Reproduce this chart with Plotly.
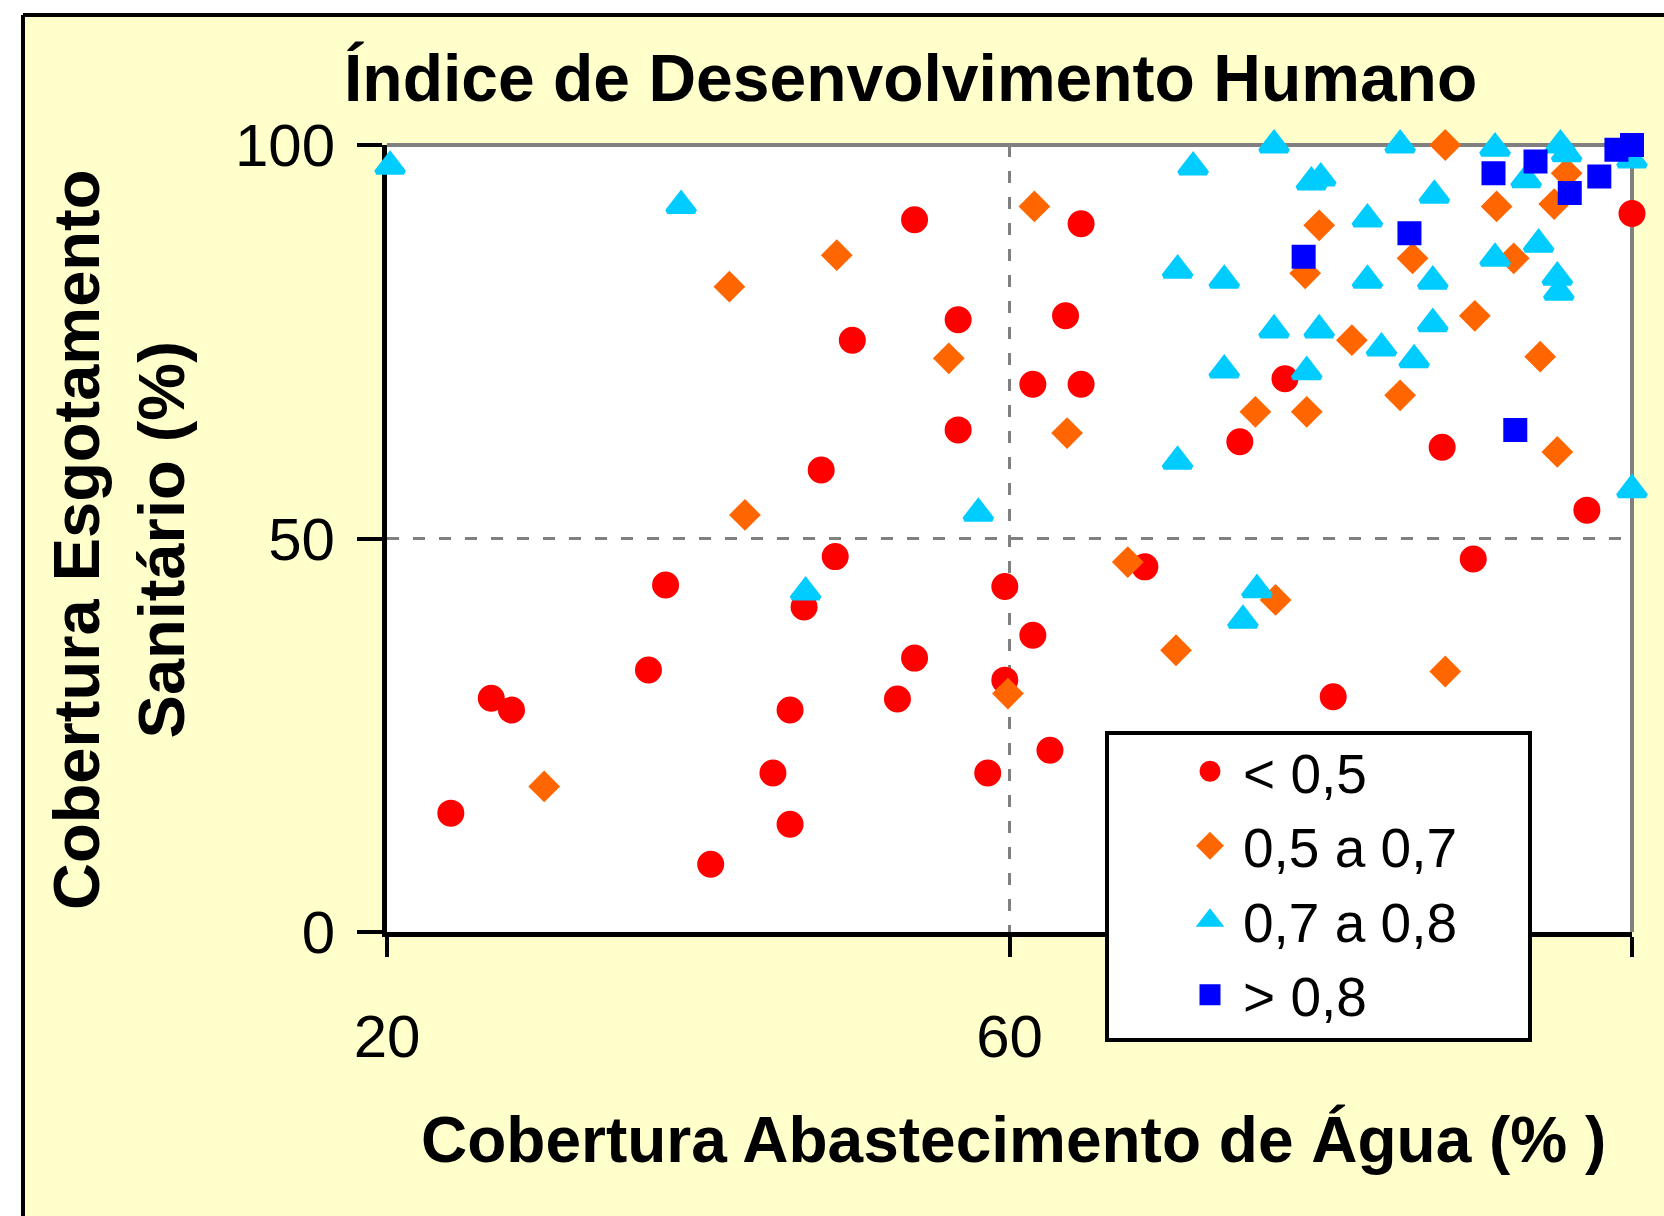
import plotly.graph_objects as go

# ---------------- data ----------------
series_names = ["< 0,5", "0,5 a 0,7", "0,7 a 0,8", "> 0,8"]

low_x = [24.1, 26.7, 28.0, 36.8, 37.9, 40.8, 44.8, 45.9, 45.9, 46.8, 47.9, 48.8,
         49.9, 52.8, 53.9, 53.9, 56.7, 56.7, 58.6, 59.7, 59.7, 61.5, 61.5, 62.6,
         63.6, 64.6, 64.6, 68.7, 74.8, 77.7, 80.8, 87.8, 89.8, 97.1, 100.0]
low_y = [15.1, 29.7, 28.2, 33.3, 44.1, 8.6, 20.2, 28.2, 13.7, 41.3, 58.7, 47.7,
         75.2, 29.6, 34.8, 90.5, 77.8, 63.8, 20.2, 43.9, 32.0, 37.7, 69.6, 23.1,
         78.3, 90.0, 69.6, 46.4, 62.3, 70.3, 29.9, 61.6, 47.4, 53.6, 91.3]

mid_x = [30.1, 42.0, 43.0, 48.9, 56.1, 59.9, 61.6, 63.7, 67.6, 70.7, 75.8, 77.1,
         79.1, 79.0, 79.9, 82.0, 85.1, 85.9, 88.0, 88.0, 89.9, 91.3, 92.4, 94.1,
         95.0, 95.2, 95.8]
mid_y = [18.5, 82.0, 53.0, 86.0, 72.9, 30.3, 92.2, 63.4, 47.0, 35.8, 66.1, 42.2,
         66.1, 83.7, 89.8, 75.2, 68.2, 85.6, 33.1, 100.0, 78.3, 92.2, 85.6, 73.1,
         92.5, 61.0, 96.4]

high_x = [20.2, 38.9, 58.0, 46.9, 70.8, 71.8, 73.8, 73.8, 75.0, 75.9, 77.0, 77.0,
          79.4, 80.0, 79.1, 79.9, 70.8, 83.0, 83.0, 83.9, 85.1, 86.0, 87.3, 87.2,
          87.2, 91.2, 91.2, 93.2, 94.0, 95.2, 95.3, 95.4, 95.8, 100.0, 100.0]
high_y = [97.3, 92.3, 53.2, 43.2, 84.1, 97.2, 82.8, 71.4, 39.6, 43.5, 100.0, 76.5,
          95.3, 95.8, 71.2, 76.5, 59.8, 90.6, 82.8, 74.2, 100.0, 72.7, 93.6, 82.7,
          77.3, 99.6, 85.6, 95.6, 87.4, 83.2, 81.3, 100.0, 98.9, 98.1, 56.2]

vhigh_x = [78.9, 85.7, 91.1, 93.8, 96.0, 97.9, 99.0, 100.0, 92.5]
vhigh_y = [85.8, 88.8, 96.4, 97.9, 93.9, 96.0, 99.4, 100.0, 63.8]

x_ticks = [20, 60, 100]
y_ticks = [0, 50, 100]

title_text = "Índice de Desenvolvimento Humano"
x_title = "Cobertura Abastecimento de Água (% )"
y_title = "Cobertura Esgotamento<br>Sanitário (%)"

# ---------------- styles ----------------
FONT = "Liberation Sans, Arial, sans-serif"
W, H = 1664, 1216
L, R, T, B = 387, 32, 145, 284
PW, PH = W - L - R, H - T - B


def px_x(p):
    return (p - L) / PW


def px_y(p):
    return (H - B - p) / PH


styles = [
    dict(symbol="circle", color="#FF0000", size=22),
    dict(symbol="diamond", color="#FF6600", size=19),
    dict(symbol="triangle-up", color="#00CCFF", size=24),
    dict(symbol="square", color="#0000FF", size=19),
]
data = [(low_x, low_y), (mid_x, mid_y), (high_x, high_y), (vhigh_x, vhigh_y)]

fig = go.Figure()
for name, (xs, ys), st in zip(series_names, data, styles):
    fig.add_trace(go.Scatter(
        x=xs, y=ys, mode="markers", name=name, cliponaxis=False,
        marker=dict(symbol=st["symbol"], color=st["color"], size=st["size"],
                    line=dict(width=5, color=st["color"])),
    ))

axis_common = dict(
    showline=True, linecolor="black", linewidth=5,
    ticks="outside", tickcolor="black", tickwidth=4,
    showgrid=True, gridcolor="#808080", gridwidth=3, griddash="12px,14px",
    zeroline=False, layer="below traces",
    tickfont=dict(family=FONT, size=60, color="black"),
)

fig.update_xaxes(range=[20, 100], tickvals=x_ticks, ticklen=20,
                 ticklabelstandoff=28, **axis_common)
fig.update_yaxes(range=[0, 100], tickvals=y_ticks, ticklen=25,
                 ticklabelstandoff=10, **axis_common)

shapes = [
    # white page strips outside chart-area border
    dict(type="rect", xref="paper", yref="paper", layer="below",
         x0=px_x(-10), x1=px_x(22), y0=px_y(H + 10), y1=px_y(-10),
         fillcolor="white", line=dict(width=0)),
    dict(type="rect", xref="paper", yref="paper", layer="below",
         x0=px_x(-10), x1=px_x(W + 10), y0=px_y(14), y1=px_y(-10),
         fillcolor="white", line=dict(width=0)),
    # chart-area border
    dict(type="line", xref="paper", yref="paper", layer="below",
         x0=px_x(23), x1=px_x(W + 10), y0=px_y(15), y1=px_y(15),
         line=dict(color="black", width=4)),
    dict(type="line", xref="paper", yref="paper", layer="below",
         x0=px_x(23), x1=px_x(23), y0=px_y(15), y1=px_y(H + 10),
         line=dict(color="black", width=4)),
    # gray plot-area border (top and right)
    dict(type="line", xref="paper", yref="paper", layer="between",
         x0=0, x1=1, y0=1, y1=1, line=dict(color="#808080", width=4)),
    dict(type="line", xref="paper", yref="paper", layer="between",
         x0=1, x1=1, y0=0, y1=1, line=dict(color="#808080", width=4)),
    # legend box
    dict(type="rect", xref="paper", yref="paper", layer="above",
         x0=px_x(1107), x1=px_x(1530), y0=px_y(1040), y1=px_y(733),
         fillcolor="white", line=dict(color="black", width=4)),
]

annotations = [
    dict(text=title_text, xref="paper", yref="paper", x=px_x(910), y=px_y(78),
         xanchor="center", yanchor="middle", showarrow=False,
         font=dict(family=FONT, size=66, color="black", weight="bold")),
    dict(text=x_title, xref="paper", yref="paper", x=px_x(1013), y=px_y(1140),
         xanchor="center", yanchor="middle", showarrow=False,
         font=dict(family=FONT, size=64, color="black", weight="bold")),
    dict(text=y_title, xref="paper", yref="paper", x=px_x(119), y=px_y(540),
         xanchor="center", yanchor="middle", showarrow=False, textangle=-90,
         font=dict(family=FONT, size=65, color="black", weight="bold")),
]

fig.update_layout(
    width=W, height=H, autosize=False,
    margin=dict(l=L, r=R, t=T, b=B, pad=0),
    paper_bgcolor="#FFFFCC", plot_bgcolor="white",
    font=dict(family=FONT, color="black"),
    shapes=shapes, annotations=annotations,
    showlegend=True,
    legend=dict(x=px_x(1177), y=px_y(729), xanchor="left", yanchor="top",
                bgcolor="rgba(0,0,0,0)", borderwidth=0, itemwidth=56,
                font=dict(family=FONT, size=55, color="black"),
                traceorder="normal", itemsizing="trace"),
)

fig.write_html("out.html", config={"displayModeBar": False},
               post_script="document.body.style.margin='0px';")
